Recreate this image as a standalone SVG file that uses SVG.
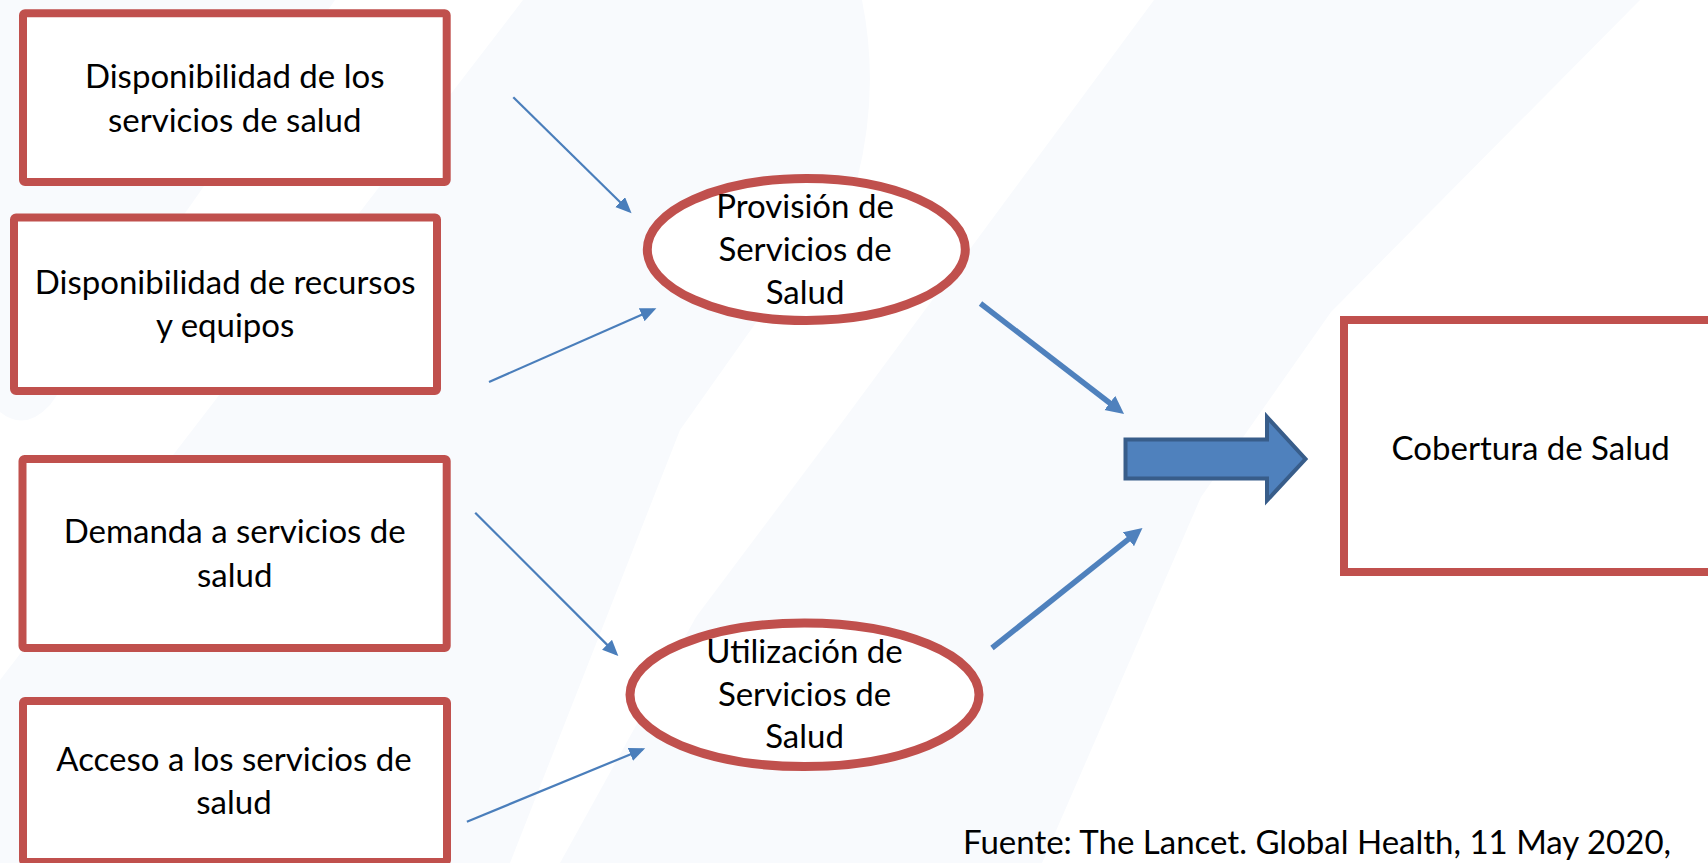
<svg xmlns="http://www.w3.org/2000/svg" width="1708" height="863" viewBox="0 0 1708 863">
  <style>
    .bg { fill: #F8FAFD; stroke: none; }
    .box { fill: #FFFFFF; stroke: #C0504D; stroke-width: 8; }
    .ell { fill: #FFFFFF; stroke: #C0504D; stroke-width: 9; }
    .lbl { font-family: Lato, "Liberation Sans", sans-serif; font-size: 33px; fill: #000000; text-anchor: middle; }
    .src { font-family: Lato, "Liberation Sans", sans-serif; font-size: 33px; fill: #000000; }
    .thin { fill: none; stroke: #4A7EBB; stroke-width: 2.2; }
    .thick { fill: none; stroke: #4F81BD; stroke-width: 5.5; }
    .block { fill: #4F81BD; stroke: #385D8A; stroke-width: 4; stroke-linejoin: miter; }
  </style>
  <defs>
    <marker id="headThin" markerUnits="userSpaceOnUse" markerWidth="17" markerHeight="15" refX="13" refY="7" orient="auto">
      <path d="M0,0 L16,7 L0,14 Z" fill="#4A7EBB"/>
    </marker>
    <marker id="headThick" markerUnits="userSpaceOnUse" markerWidth="19" markerHeight="19" refX="11" refY="9" orient="auto">
      <path d="M0,0 L18,9 L0,18 Z" fill="#4F81BD"/>
    </marker>
  </defs>

  <rect width="1708" height="863" fill="#FFFFFF"/>
  <g id="background">
    <path class="bg" d="M0,0 L335,0 L50,405 Q25,432 0,412 Z"/>
    <path class="bg" d="M523,0 L862,0 Q880,90 857,180 L680,430 L510,863 L0,863 L0,680 Z"/>
    <path class="bg" d="M1154,0 L1640,0 L1331,312 L1201,497 L1042,863 L560,863 L696,617 L840,425 Z"/>
  </g>

  <g id="connectors">
    <line class="thin" x1="513.3" y1="97.3" x2="629.4" y2="211.2" marker-end="url(#headThin)"/>
    <line class="thin" x1="489" y1="382" x2="653.6" y2="309.5" marker-end="url(#headThin)"/>
    <line class="thin" x1="475.2" y1="512.7" x2="616.2" y2="653.9" marker-end="url(#headThin)"/>
    <line class="thin" x1="466.9" y1="821.7" x2="642.4" y2="749.4" marker-end="url(#headThin)"/>
    <line class="thick" x1="980.5" y1="303.5" x2="1118.5" y2="409.7" marker-end="url(#headThick)"/>
    <line class="thick" x1="992" y1="648" x2="1137" y2="532.4" marker-end="url(#headThick)"/>
    <polygon id="block-arrow" class="block" points="1125.5,439.5 1267,439.5 1267,417 1305.5,459 1267,500.5 1267,478.5 1125.5,478.5"/>
  </g>

  <g id="node-disp-servicios">
    <rect class="box" x="23" y="13.3" width="423.7" height="168.7" rx="2"/>
    <text class="lbl" x="234.7" y="88.3">Disponibilidad de los</text>
    <text class="lbl" x="234.7" y="131.7">servicios de salud</text>
  </g>
  <g id="node-disp-recursos">
    <rect class="box" x="14" y="217.5" width="423" height="173.5" rx="2"/>
    <text class="lbl" x="225.2" y="294">Disponibilidad de recursos</text>
    <text class="lbl" x="225.2" y="336.7">y equipos</text>
  </g>
  <g id="node-demanda">
    <rect class="box" x="22.5" y="459" width="424.2" height="189" rx="2"/>
    <text class="lbl" x="234.7" y="543">Demanda a servicios de</text>
    <text class="lbl" x="234.7" y="587">salud</text>
  </g>
  <g id="node-acceso">
    <rect class="box" x="23" y="701" width="424" height="161" rx="2"/>
    <text class="lbl" x="234" y="771.3">Acceso a los servicios de</text>
    <text class="lbl" x="234" y="813.7">salud</text>
  </g>
  <g id="node-provision">
    <ellipse class="ell" cx="806.3" cy="249.5" rx="159" ry="71"/>
    <text class="lbl" x="805" y="218.3">Provisión de</text>
    <text class="lbl" x="805" y="261">Servicios de</text>
    <text class="lbl" x="805" y="303.5">Salud</text>
  </g>
  <g id="node-utilizacion">
    <ellipse class="ell" cx="804.5" cy="694.8" rx="174.5" ry="71.8"/>
    <text class="lbl" x="804.5" y="663.3">Utilización de</text>
    <text class="lbl" x="804.5" y="706">Servicios de</text>
    <text class="lbl" x="804.5" y="748.3">Salud</text>
  </g>
  <g id="node-cobertura">
    <rect class="box" x="1344" y="320" width="380" height="252"/>
    <text class="lbl" x="1530.7" y="459.5">Cobertura de Salud</text>
  </g>
  <g id="source-note">
    <text class="src" x="963" y="854">Fuente: The Lancet. Global Health, 11 May 2020,</text>
  </g>
</svg>
